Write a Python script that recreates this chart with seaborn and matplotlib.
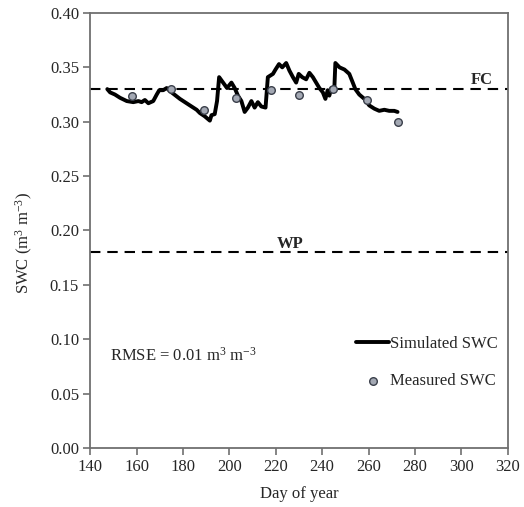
import pandas as pd
import matplotlib
matplotlib.use("Agg")
import matplotlib.pyplot as plt
import seaborn as sns

# simulated soil water content
sim_day = [147.4, 148.6, 150.7, 152.9, 155.8, 158.6, 160.8, 162.2, 163.6, 165.1,
           167.2, 168.7, 169.8, 171.5, 173.0, 175.1, 178.7, 183.0, 185.9, 187.3,
           189.4, 191.6, 192.3, 193.7, 194.7, 195.6, 197.3, 199.0, 200.9, 202.3,
           203.7, 205.2, 206.6, 208.0, 209.5, 210.9, 212.3, 213.8, 215.6, 216.6,
           218.8, 219.9, 221.4, 222.8, 224.5, 225.9, 227.4, 228.8, 229.9, 231.4,
           233.1, 234.5, 236.0, 237.4, 238.8, 240.3, 241.4, 242.4, 243.1, 243.9,
           244.6, 245.3, 245.7, 247.5, 249.6, 251.7, 253.2, 254.3, 256.0, 258.2,
           260.3, 262.5, 264.6, 266.8, 268.9, 271.1, 272.5]
sim_swc = [0.330, 0.327, 0.325, 0.322, 0.319, 0.318, 0.319, 0.318, 0.320, 0.317,
           0.319, 0.325, 0.329, 0.329, 0.331, 0.327, 0.321, 0.315, 0.311, 0.308,
           0.305, 0.301, 0.306, 0.307, 0.319, 0.341, 0.336, 0.331, 0.336, 0.331,
           0.324, 0.319, 0.309, 0.313, 0.319, 0.313, 0.318, 0.314, 0.313, 0.341,
           0.344, 0.348, 0.353, 0.350, 0.354, 0.347, 0.341, 0.336, 0.344, 0.341,
           0.339, 0.345, 0.341, 0.336, 0.331, 0.327, 0.321, 0.329, 0.324, 0.331,
           0.328, 0.333, 0.354, 0.350, 0.348, 0.344, 0.336, 0.330, 0.325, 0.321,
           0.315, 0.312, 0.310, 0.311, 0.310, 0.310, 0.309]

# measured soil water content
meas_day = [158, 175, 189, 203, 218, 230, 244.5, 259.5, 272.5]
meas_swc = [0.324, 0.330, 0.311, 0.322, 0.329, 0.325, 0.330, 0.320, 0.300]

FC = 0.33
WP = 0.18

sim = pd.DataFrame({'day': sim_day, 'swc': sim_swc})
meas = pd.DataFrame({'day': meas_day, 'swc': meas_swc})

sns.set_theme(style="white")
plt.rcParams['font.family'] = ['Liberation Serif', 'DejaVu Serif']
plt.rcParams['mathtext.fontset'] = 'custom'
plt.rcParams['mathtext.rm'] = 'Liberation Serif'
plt.rcParams['mathtext.it'] = 'Liberation Serif:italic'

fig = plt.figure(figsize=(5.24, 5.07), dpi=100)
ax = fig.add_axes([0.172, 0.1164, 0.797, 0.858])

# field capacity / wilting point
ax.axhline(FC, color='black', linestyle=(0, (5, 3.3)), linewidth=1.5, zorder=1)
ax.axhline(WP, color='black', linestyle=(0, (5, 3.3)), linewidth=1.5, zorder=1)

sns.lineplot(data=sim, x='day', y='swc', ax=ax, color='black', linewidth=2.8,
             label='Simulated SWC', zorder=2, sort=False)
sns.scatterplot(data=meas, x='day', y='swc', ax=ax, color='#a3a8b3',
                edgecolor='#3a3f4a', linewidth=1.0, s=30,
                label='Measured SWC', zorder=3)

ax.text(309, 0.338, 'FC', fontsize=12, fontweight='bold', ha='center', va='center')
ax.text(226, 0.188, 'WP', fontsize=12, fontweight='bold', ha='center', va='center')
ax.text(148.5, 0.085, 'RMSE = 0.01 m$^{3}$ m$^{-3}$', fontsize=12, ha='left', va='center')

ax.set_xlim(140, 320)
ax.set_ylim(0, 0.40)
ax.set_xticks(range(140, 321, 20))
ax.set_yticks([i * 0.05 for i in range(9)])
ax.set_yticklabels([f'{i * 0.05:.2f}' for i in range(9)])
ax.set_xlabel('Day of year', fontsize=12, labelpad=8)
ax.set_ylabel('SWC (m$^{3}$ m$^{-3}$)', fontsize=12)
ax.yaxis.set_label_coords(-0.132, 0.47)
ax.tick_params(axis='both', labelsize=12, direction='out', length=5, width=1.2,
               color='#707070', bottom=True, left=True, pad=3)
for sp in ax.spines.values():
    sp.set_color('#707070')
    sp.set_linewidth(1.3)

ax.legend(loc='lower right', bbox_to_anchor=(1.0, 0.112), frameon=False,
          fontsize=12, handlelength=2.0, handletextpad=0.05,
          borderaxespad=0.2, labelspacing=1.3)

fig.savefig('out.png', dpi=100)
